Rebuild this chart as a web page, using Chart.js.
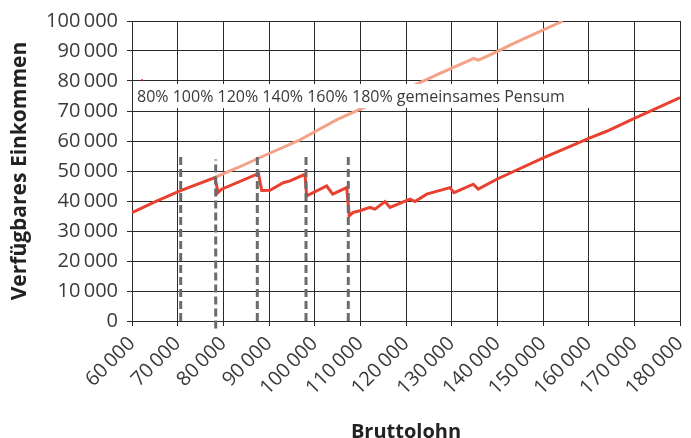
<!DOCTYPE html>
<html>
<head>
<meta charset="utf-8">
<script src="https://cdn.jsdelivr.net/npm/chart.js@4.4.1/dist/chart.umd.min.js"></script>
<style>
  html, body { margin: 0; padding: 0; background: #fff; }
  #wrap { width: 691px; height: 438px; position: relative; }
</style>
</head>
<body>
<div id="wrap"><canvas id="chart"></canvas></div>
<script>
// tick labels
const xTicks = [60000, 70000, 80000, 90000, 100000, 110000, 120000, 130000, 140000, 150000, 160000, 170000, 180000];
const yTicks = [0, 10000, 20000, 30000, 40000, 50000, 60000, 70000, 80000, 90000, 100000];

// red line: available income
const redX = [60000, 65000, 70500, 78170, 78830, 79640, 87300, 87660, 88400, 90220, 93130, 94600, 97880, 98250,
  102630, 103950, 107010, 107580, 108460, 109920, 112110, 113210, 115400, 116490, 120870, 121970, 124530,
  129630, 130510, 134730, 135830, 139860, 150060, 160280, 163940, 170000, 180000];
const redY = [36100, 39700, 43400, 47800, 42800, 43940, 48900, 49400, 43500, 43600, 46100, 46700, 48900, 41700,
  45000, 42300, 44470, 35100, 36200, 36750, 37850, 37300, 39800, 37850, 40630, 39800, 42280,
  44470, 42800, 45600, 43940, 47250, 54400, 61030, 63250, 67550, 74500];

// salmon line
const pinkX = [78330, 83000, 89500, 96300, 105100, 121970, 127440, 134010, 134730, 135830, 139860, 142770, 154370];
const pinkY = [48000, 51000, 55500, 60000, 67300, 78700, 82560, 86990, 87530, 86990, 89740, 91950, 100000];

// dashed markers
const dashX = [70660, 78330, 87440, 98100, 107360];
const dashTop = [55300, 53800, 55600, 55600, 55600];
const dashBottom = [0, -2500, 0, 0, 0];

// stray mark near the top left
const markX = [62000, 62400];
const markY = [80300, 80300];

const boxLabel = "80% 100% 120% 140% 160% 180% gemeinsames Pensum";

const fmt = (v) => String(Math.round(v)).replace(/\B(?=(\d{3})+(?!\d))/g, "\u2009");
const toPoints = (xs, ys) => xs.map((x, i) => ({ x: x, y: ys[i] }));

const datasets = [];
dashX.forEach((x, i) => {
  datasets.push({
    data: [{ x: x, y: dashBottom[i] }, { x: x, y: dashTop[i] }],
    borderColor: "#6b6b6b",
    borderWidth: 3,
    borderDash: [8, 4],
    pointRadius: 0,
    clip: false,
  });
});
datasets.push({
  data: toPoints(pinkX, pinkY),
  borderColor: "#f4a186",
  borderWidth: 3,
  pointRadius: 0,
  tension: 0,
});
datasets.push({
  data: toPoints(redX, redY),
  borderColor: "#e9402f",
  borderWidth: 3,
  pointRadius: 0,
  tension: 0,
});
datasets.push({
  data: toPoints(markX, markY),
  borderColor: "#e6007e",
  borderWidth: 1.5,
  pointRadius: 0,
});

// white box with the workload labels
const labelBox = {
  id: "labelBox",
  afterDatasetsDraw(chart) {
    const ctx = chart.ctx;
    const area = chart.chartArea;
    ctx.save();
    ctx.fillStyle = "#fff";
    ctx.fillRect(area.left + 1, 84, 468, 24);
    ctx.fillStyle = "#3a3a3a";
    ctx.font = "16px 'Open Sans'";
    ctx.textBaseline = "alphabetic";
    ctx.fillText(boxLabel, area.left + 5, 102);
    ctx.restore();
  },
};

const gridColor = "#2a2a2a";
const tickFont = { family: "'Open Sans'", size: 20 };

new Chart(document.getElementById("chart").getContext("2d"), {
  type: "line",
  data: { datasets: datasets },
  plugins: [labelBox],
  options: {
    responsive: true,
    maintainAspectRatio: false,
    animation: false,
    layout: { padding: { top: 19, right: 11, left: 0, bottom: 0 } },
    plugins: { legend: { display: false }, tooltip: { enabled: false } },
    scales: {
      x: {
        type: "linear",
        min: 60000,
        max: 180000,
        afterBuildTicks: (s) => { s.ticks = xTicks.map((v) => ({ value: v })); },
        afterFit: (s) => { s.height = 117; s.paddingRight = 0; },
        ticks: {
          callback: (v) => fmt(v),
          minRotation: 45,
          maxRotation: 45,
          autoSkip: false,
          color: "#3a3a3a",
          font: tickFont,
          padding: 6,
        },
        grid: { color: gridColor, tickColor: gridColor, tickLength: 5, lineWidth: 1 },
        border: { color: gridColor, width: 1 },
        title: {
          display: true,
          text: "Bruttolohn",
          color: "#222",
          font: { family: "'Open Sans'", size: 20, weight: "bold", lineHeight: 0.6 },
          padding: { top: 0, bottom: 0 },
        },
      },
      y: {
        min: 0,
        max: 100000,
        afterBuildTicks: (s) => { s.ticks = yTicks.map((v) => ({ value: v })); },
        afterFit: (s) => { s.width = 132; },
        ticks: {
          callback: (v) => fmt(v),
          color: "#3a3a3a",
          font: tickFont,
          padding: 9,
        },
        grid: { color: gridColor, tickColor: gridColor, tickLength: 5, lineWidth: 1 },
        border: { color: gridColor, width: 1 },
        title: {
          display: true,
          text: "Verfügbares Einkommen",
          color: "#222",
          font: { family: "'Open Sans'", size: 21, weight: "bold", lineHeight: 1.2 },
          padding: { top: 7, bottom: 0 },
        },
      },
    },
  },
});
</script>
</body>
</html>
